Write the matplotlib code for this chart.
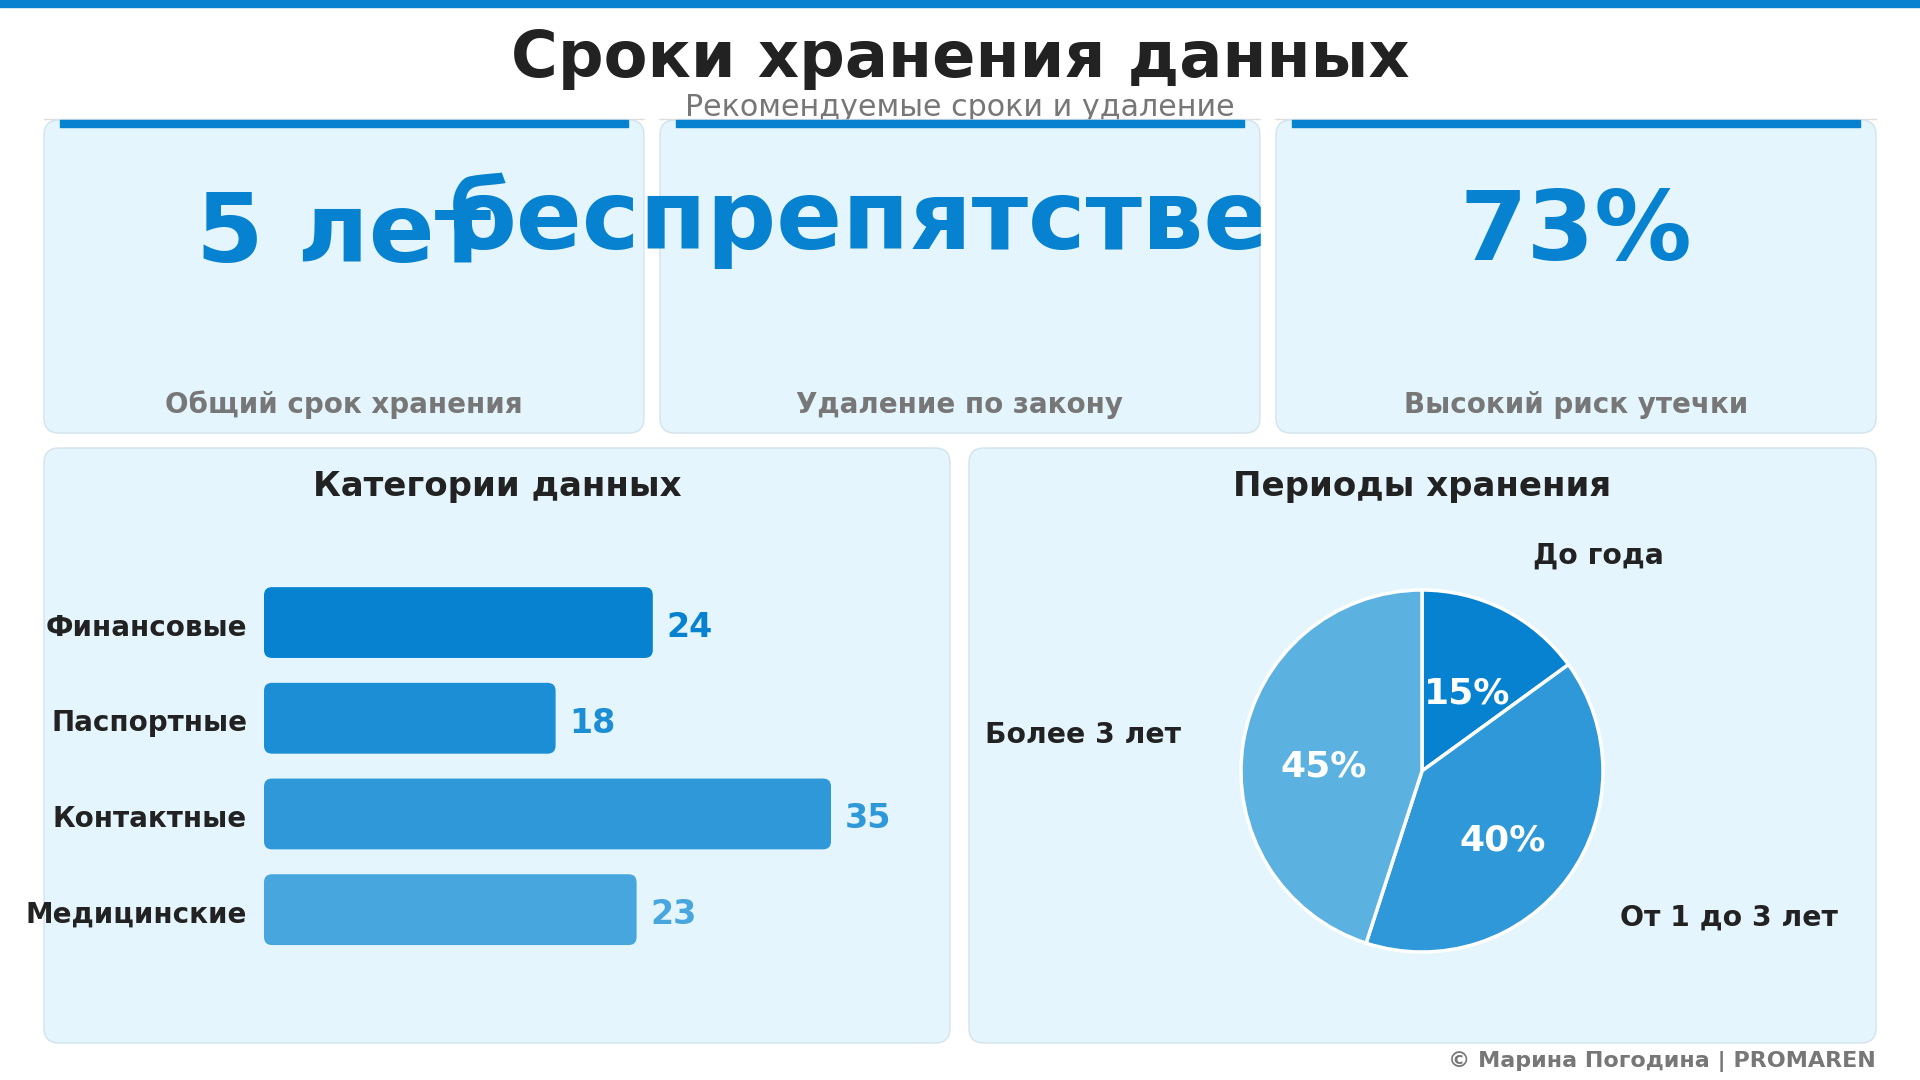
import matplotlib
matplotlib.use("Agg")
import matplotlib.pyplot as plt
from matplotlib.patches import FancyBboxPatch, Rectangle

plt.rcParams['font.family'] = ['DejaVu Sans']

# данные
title = "Сроки хранения данных"
subtitle = "Рекомендуемые сроки и удаление"
kpi_values = ["5 лет", "беспрепятственно", "73%"]
kpi_labels = ["Общий срок хранения", "Удаление по закону", "Высокий риск утечки"]

bar_title = "Категории данных"
bar_categories = ["Финансовые", "Паспортные", "Контактные", "Медицинские"]
bar_values = [24, 18, 35, 23]

pie_title = "Периоды хранения"
pie_labels = ["До года", "От 1 до 3 лет", "Более 3 лет"]
pie_values = [15, 40, 45]

footer = "© Марина Погодина | PROMAREN"

# стиль
W, H = 1920, 1080
BLUE = "#0682D0"
CARD_BG = "#E4F5FD"
CARD_EDGE = "#D3E3EC"
DARK = "#222222"
GRAY = "#777777"
bar_colors = ["#0682D0", "#1B8ED5", "#2E98D8", "#47A6DE"]
pie_colors = ["#0682D0", "#2E98D8", "#5BB1E0"]


def fr(x0, y0, x1, y1):
    # пиксели (сверху вниз) -> доли фигуры
    return [x0 / W, 1 - y1 / H, (x1 - x0) / W, (y1 - y0) / H]


fig = plt.figure(figsize=(W / 100, H / 100), dpi=100)
fig.patch.set_facecolor("white")

bg = fig.add_axes([0, 0, 1, 1])
bg.set_xlim(0, W)
bg.set_ylim(H, 0)
bg.axis("off")

bg.add_patch(Rectangle((0, 0), W, 7, color=BLUE, zorder=1))
bg.text(960, 77, title, ha="center", va="baseline", fontsize=46,
        fontweight="bold", color=DARK)
bg.text(960, 116, subtitle, ha="center", va="baseline", fontsize=21.7, color=GRAY)
bg.plot([44, 1876], [119, 119], color="#dddddd", lw=1, zorder=1)

# карточки KPI
cards = [(44, 644), (660, 1260), (1276, 1876)]
value_base = [262, 249, 260]
for i, (x0, x1) in enumerate(cards):
    z = 2 + 3 * i
    if i > 0:
        # фон соседней карточки перекрывает длинный текст
        gx = cards[i - 1][1] + 1
        bg.add_patch(Rectangle((gx, 118), x0 - 2.5 - gx, 318,
                               color="white", zorder=z - 0.1))
    bg.add_patch(FancyBboxPatch((x0, 120), x1 - x0, 313,
                                boxstyle="round,pad=0,rounding_size=15",
                                fc=CARD_BG, ec=CARD_EDGE, lw=1, zorder=z))
    bg.add_patch(Rectangle((x0 + 16, 120), x1 - x0 - 32, 6.5, color=BLUE, zorder=z + 0.1))
    cx = (x0 + x1) / 2
    bg.text(cx, value_base[i], kpi_values[i], ha="center", va="baseline",
            fontsize=70, fontweight="bold", color=BLUE, zorder=z + 1)
    bg.text(cx, 413, kpi_labels[i], ha="center", va="baseline", fontsize=20,
            fontweight="bold", color=GRAY, zorder=z + 1)

# нижние панели
panels = [(44, 950), (969, 1876)]
for (x0, x1), t in zip(panels, [bar_title, pie_title]):
    bg.add_patch(FancyBboxPatch((x0, 448), x1 - x0, 595,
                                boxstyle="round,pad=0,rounding_size=15",
                                fc=CARD_BG, ec=CARD_EDGE, lw=1, zorder=20))
    bg.text((x0 + x1) / 2, 496, t, ha="center", va="baseline", fontsize=24.5,
            fontweight="bold", color=DARK, zorder=21)

bg.text(1876, 1061, footer, ha="right", va="center", fontsize=16,
        fontweight="bold", color=GRAY)

# столбчатая диаграмма
xmax = 40
bx0, bx1 = 264, 264 + 16.2 * xmax
by0, by1 = 574.7, 957.5
ax = fig.add_axes(fr(bx0, by0, bx1, by1))
ax.set_xlim(0, xmax)
ax.set_ylim(len(bar_values) - 0.5, -0.5)
ax.axis("off")
px_x = (bx1 - bx0) / xmax
px_y = (by1 - by0) / len(bar_values)
bh = 0.74
for i, (cat, v) in enumerate(zip(bar_categories, bar_values)):
    ax.add_patch(FancyBboxPatch((0, i - bh / 2), v, bh,
                                boxstyle="round,pad=0,rounding_size=%.3f" % (8 / px_x),
                                mutation_aspect=px_x / px_y,
                                fc=bar_colors[i], ec="none"))
    ax.annotate(cat, xy=(0, i), xytext=(-17, -5), textcoords="offset pixels",
                ha="right", va="center", fontsize=20, fontweight="bold", color=DARK)
    ax.annotate(str(v), xy=(v, i), xytext=(14, -5), textcoords="offset pixels",
                ha="left", va="center", fontsize=24, fontweight="bold", color=bar_colors[i])

# круговая диаграмма
pcx, pcy, pr = 1422, 771, 181
half = 1.25 * pr
pax = fig.add_axes(fr(pcx - half, pcy - half, pcx + half, pcy + half))
wedges, texts, autotexts = pax.pie(
    pie_values, labels=pie_labels, colors=pie_colors, startangle=90,
    counterclock=False, autopct="%.0f%%", labeldistance=1.35, pctdistance=0.55,
    wedgeprops=dict(edgecolor="white", linewidth=2.5),
    textprops=dict(fontsize=20.3, fontweight="bold", color=DARK))
for t in texts:
    x, y = t.get_position()
    t.set_position((x, y - 0.015))
for t in autotexts:
    t.set_color("white")
    t.set_fontsize(26)
    x, y = t.get_position()
    t.set_position((x, y - 0.06))
pax.set_xlim(-1.25, 1.25)
pax.set_ylim(-1.25, 1.25)
pax.set_aspect("equal")

fig.savefig("out.png", dpi=100, facecolor="white")
